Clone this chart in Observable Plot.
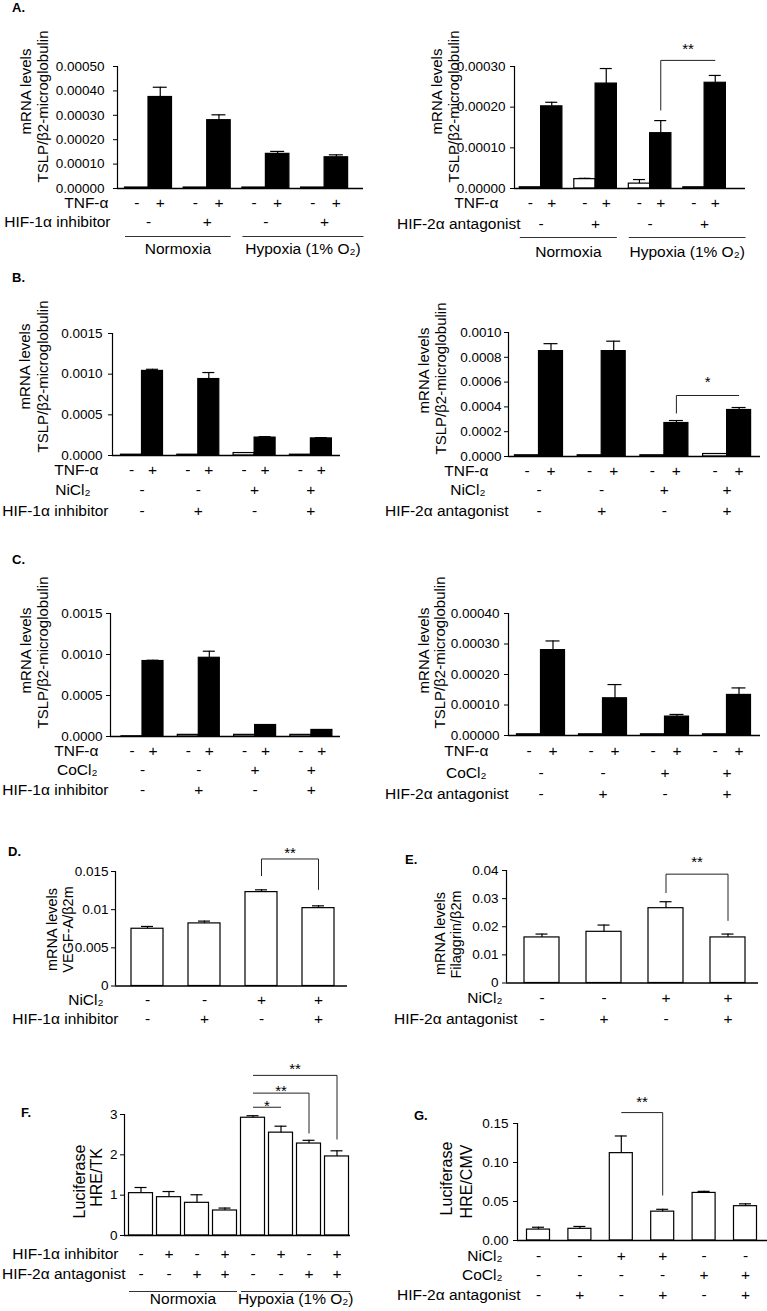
<!DOCTYPE html>
<html><head><meta charset="utf-8">
<script src="https://cdn.jsdelivr.net/npm/d3@7"></script>
<script src="https://cdn.jsdelivr.net/npm/@observablehq/plot@0.6"></script>
<style>
body{margin:0;background:#fff;}
#fig{position:relative;width:767px;height:1311px;background:#fff;overflow:hidden;font-family:"Liberation Sans",Arial,Helvetica,sans-serif;color:#000;}
.letter{position:absolute;font-weight:bold;font-size:13px;line-height:13px;}
</style></head><body><div id="fig"></div>
<script>
const FONT = '"Liberation Sans", Arial, Helvetica, sans-serif';

// ---------------- DATA ----------------
// common row markers
const tnfRow = ["-","+","-","+","-","+","-","+"];
const inhibPairs = ["-","+","-","+"];
const saltPairs = ["-","-","+","+"];
const oxygenGroups = ["Normoxia", "Hypoxia (1% O₂)"];
const tslpTitle = ["mRNA levels", "TSLP/β2-microglobulin"];

// Panel A left
const aLeftValues = [0.000004, 0.000375, 0.000004, 0.00028, 0.000004, 0.000142, 0.000004, 0.000128];
const aLeftErrors = [0, 0.00004, 0, 0.000022, 0, 0.00001, 0, 0.00001];
const aLeftTicks = [0, 0.0001, 0.0002, 0.0003, 0.0004, 0.0005];
// Panel A right
const aRightValues = [0.000003, 0.000202, 0.000023, 0.000258, 0.000012, 0.000136, 0.000003, 0.00026];
const aRightErrors = [0, 0.00001, 0.000002, 0.000037, 0.00001, 0.000031, 0, 0.000018];
const aRightTicks = [0, 0.0001, 0.0002, 0.0003];
const aRightSig = [{from: 5, to: 7, y: 0.000315, leftLow: 0.000192, rightLow: null, starY: 0.000352, label: "**"}];
// Panel B left
const bLeftValues = [0.00001, 0.00104, 0.00001, 0.00094, 0.00003, 0.00022, 0.00001, 0.00021];
const bLeftErrors = [0, 0.00002, 0, 0.00008, 0, 0.000012, 0, 0.00001];
const bLeftTicks = [0, 0.0005, 0.001, 0.0015];
// Panel B right
const bRightValues = [0.00001, 0.00085, 0.00001, 0.00085, 0.00001, 0.00027, 0.00002, 0.000375];
const bRightErrors = [0, 0.00006, 0, 0.00008, 0, 0.00002, 0, 0.00002];
const bRightTicks = [0, 0.0002, 0.0004, 0.0006, 0.0008, 0.001];
const bRightSig = [{from: 5, to: 7, y: 0.000492, leftLow: 0.000347, rightLow: null, starY: 0.000629, label: "*"}];
// Panel C left
const cLeftValues = [0.000003, 0.00092, 0.00002, 0.00096, 0.00002, 0.00014, 0.00002, 0.00008];
const cLeftErrors = [0, 0.00001, 0, 0.00008, 0, 0, 0, 0];
const cLeftTicks = [0, 0.0005, 0.001, 0.0015];
// Panel C right
const cRightValues = [0.000004, 0.00028, 0.000004, 0.000122, 0.000004, 0.000062, 0.000004, 0.000133];
const cRightErrors = [0, 0.00003, 0, 0.000045, 0, 0.000007, 0, 0.000023];
const cRightTicks = [0, 0.0001, 0.0002, 0.0003, 0.0004];
// Panel D
const dValues = [0.0075, 0.0082, 0.0123, 0.0102];
const dErrors = [0.0003, 0.0003, 0.0003, 0.0003];
const dTicks = [0, 0.005, 0.01, 0.015];
const dSig = [{from: 2, to: 3, y: 0.01664, leftLow: 0.0144, rightLow: 0.0126, starY: 0.01795, label: "**"}];
// Panel E
const eValues = [0.0162, 0.0182, 0.0266, 0.0162];
const eErrors = [0.0012, 0.0024, 0.0023, 0.0012];
const eTicks = [0, 0.01, 0.02, 0.03, 0.04];
const eSig = [{from: 2, to: 3, y: 0.0387, leftLow: 0.032, rightLow: 0.0221, starY: 0.0443, label: "**"}];
// Panel F
const fValues = [1.05, 0.95, 0.81, 0.62, 2.92, 2.55, 2.28, 1.96];
const fErrors = [0.14, 0.14, 0.2, 0.06, 0.05, 0.16, 0.08, 0.14];
const fTicks = [0, 1, 2, 3];
const fInhib = ["-","+","-","+","-","+","-","+"];
const fAntag = ["-","-","+","+","-","-","+","+"];
const fSig = [
  {from: 4, to: 5, y: 3.18, leftLow: null, rightLow: null, starY: 3.3, label: "*"},
  {from: 4, to: 6, y: 3.53, leftLow: null, rightLow: 2.53, starY: 3.67, label: "**"},
  {from: 4, to: 7, y: 3.97, leftLow: null, rightLow: 2.38, starY: 4.22, label: "**"}
];
// Panel G
const gValues = [0.014, 0.015, 0.112, 0.037, 0.061, 0.044];
const gErrors = [0.003, 0.003, 0.022, 0.003, 0.002, 0.003];
const gTicks = [0, 0.05, 0.1, 0.15];
const gNi = ["-","-","+","+","-","-"];
const gCo = ["-","-","-","-","+","+"];
const gAntag = ["-","+","-","+","-","+"];
const gSig = [{from: 2, to: 3, y: 0.164, leftLow: null, rightLow: 0.0577, starY: 0.183, label: "**"}];

// ---------------- PANELS ----------------
const ROW_FONT = 15.5, TICK_FONT = "13.5px";
const panels = [
  {letter: "A.", values: aLeftValues, errors: aLeftErrors, yMax: 0.0005, ticks: aLeftTicks, fmt: d3.format(".5f"),
   fillRow: tnfRow, rows: [{label: "TNF-α", marks: tnfRow}, {label: "HIF-1α inhibitor", marks: inhibPairs}],
   groups: oxygenGroups, groupBars: 4, titles: tslpTitle,
   L: {svgX:0, svgY:15, svgW:383, svgH:260, axisX0:117, axisX1:363, zeroY:188, topY:66, barW:23.5, firstBarX:124.5, group:2, period:58.7, cap:7, tickPad:9,
       rowDy:[19.5,38.5], rowEnd:[108,110], underlineDy:48, groupDy:65, titlePos:[[20,91],[37,106]], titleSize:15, letterPos:[12,1]}},
  {letter: null, values: aRightValues, errors: aRightErrors, yMax: 0.0003, ticks: aRightTicks, fmt: d3.format(".5f"),
   fillRow: tnfRow, rows: [{label: "TNF-α", marks: tnfRow}, {label: "HIF-2α antagonist", marks: inhibPairs}],
   groups: oxygenGroups, groupBars: 4, titles: tslpTitle, sig: aRightSig,
   L: {svgX:383, svgY:15, svgW:384, svgH:260, axisX0:514, axisX1:745, zeroY:188, topY:66, barW:21.3, firstBarX:519.3, group:2, period:54.5, cap:6, tickPad:5,
       rowDy:[19.5,40], rowEnd:[498,520], underlineDy:49, groupDy:68, titlePos:[[431,91],[448,106]], titleSize:15}},
  {letter: "B.", values: bLeftValues, errors: bLeftErrors, yMax: 0.0015, ticks: bLeftTicks, fmt: d3.format(".4f"),
   fillRow: tnfRow, rows: [{label: "TNF-α", marks: tnfRow}, {label: "NiCl₂", marks: saltPairs}, {label: "HIF-1α inhibitor", marks: inhibPairs}],
   titles: tslpTitle,
   L: {svgX:0, svgY:285, svgW:383, svgH:255, axisX0:112, axisX1:340, zeroY:455, topY:333, barW:21, firstBarX:120.5, group:2, period:56.3, cap:6, tickPad:6,
       rowDy:[19.5,39,60], rowEnd:[98,90,108], titlePos:[[19,366],[37,376]], titleSize:15, letterPos:[12,271]}},
  {letter: null, values: bRightValues, errors: bRightErrors, yMax: 0.001, ticks: bRightTicks, fmt: d3.format(".4f"),
   fillRow: tnfRow, rows: [{label: "TNF-α", marks: tnfRow}, {label: "NiCl₂", marks: saltPairs}, {label: "HIF-2α antagonist", marks: inhibPairs}],
   titles: tslpTitle, sig: bRightSig,
   L: {svgX:383, svgY:285, svgW:384, svgH:255, axisX0:508, axisX1:760, zeroY:456, topY:332, barW:24, firstBarX:514.5, group:2, period:62.7, cap:7, tickPad:3,
       rowDy:[19.5,38.5,59], rowEnd:[488,485,508], titlePos:[[418,370],[435,378]], titleSize:15}},
  {letter: "C.", values: cLeftValues, errors: cLeftErrors, yMax: 0.0015, ticks: cLeftTicks, fmt: d3.format(".4f"),
   fillRow: tnfRow, rows: [{label: "TNF-α", marks: tnfRow}, {label: "CoCl₂", marks: saltPairs}, {label: "HIF-1α inhibitor", marks: inhibPairs}],
   titles: tslpTitle,
   L: {svgX:0, svgY:560, svgW:383, svgH:260, axisX0:110, axisX1:340, zeroY:736, topY:613, barW:21, firstBarX:121, group:2, period:56.3, cap:6, tickPad:4,
       rowDy:[19.5,38,58], rowEnd:[98,97,108], titlePos:[[20,650],[37,652]], titleSize:15, letterPos:[12,553]}},
  {letter: null, values: cRightValues, errors: cRightErrors, yMax: 0.0004, ticks: cRightTicks, fmt: d3.format(".5f"),
   fillRow: tnfRow, rows: [{label: "TNF-α", marks: tnfRow}, {label: "CoCl₂", marks: saltPairs}, {label: "HIF-2α antagonist", marks: inhibPairs}],
   titles: tslpTitle,
   L: {svgX:383, svgY:560, svgW:384, svgH:260, axisX0:508, axisX1:760, zeroY:735, topY:613, barW:24, firstBarX:516.5, group:2, period:62, cap:7, tickPad:5,
       rowDy:[20,42,63], rowEnd:[488,486,508], titlePos:[[418,650],[434,652]], titleSize:15}},
  {letter: "D.", values: dValues, errors: dErrors, yMax: 0.015, ticks: dTicks, fmt: d3.format("~g"),
   rows: [{label: "NiCl₂", marks: saltPairs}, {label: "HIF-1α inhibitor", marks: inhibPairs}],
   titles: ["mRNA levels", "VEGF-A/β2m"], sig: dSig,
   L: {svgX:0, svgY:840, svgW:383, svgH:200, axisX0:115, axisX1:347, zeroY:985.5, topY:871, barW:32, firstBarX:131, group:1, period:57, cap:6, tickPad:3,
       rowDy:[18.5,38], rowEnd:[103,118], titlePos:[[46,929],[62,929]], titleSize:14.5, letterPos:[8,845]}},
  {letter: "E.", values: eValues, errors: eErrors, yMax: 0.04, ticks: eTicks, fmt: d3.format("~g"),
   rows: [{label: "NiCl₂", marks: saltPairs}, {label: "HIF-2α antagonist", marks: inhibPairs}],
   titles: ["mRNA levels", "Filaggrin/β2m"], sig: eSig,
   L: {svgX:383, svgY:840, svgW:384, svgH:200, axisX0:506, axisX1:758, zeroY:982.5, topY:870, barW:35, firstBarX:524, group:1, period:62, cap:6, tickPad:4,
       rowDy:[19.5,40.5], rowEnd:[502,517], titlePos:[[434,933],[450,934]], titleSize:14.5, letterPos:[405,853]}},
  {letter: "F.", values: fValues, errors: fErrors, yMax: 3, ticks: fTicks, fmt: d3.format("~g"),
   rows: [{label: "HIF-1α inhibitor", marks: fInhib}, {label: "HIF-2α antagonist", marks: fAntag}],
   groups: oxygenGroups, groupBars: 4, titles: ["Luciferase", "HRE/TK"], sig: fSig,
   L: {svgX:0, svgY:1050, svgW:383, svgH:261, axisX0:124, axisX1:350, zeroY:1235, topY:1114, barW:24, firstBarX:128.5, group:1, period:28, cap:6, tickPad:3,
       rowDy:[23,43], rowEnd:[118,125], underlineDy:56, groupDy:68, titlePos:[[73,1181],[90,1177]], titleSize:16, letterPos:[21,1106]}},
  {letter: "G.", values: gValues, errors: gErrors, yMax: 0.15, ticks: gTicks, fmt: d3.format(".2f"),
   rows: [{label: "NiCl₂", marks: gNi}, {label: "CoCl₂", marks: gCo}, {label: "HIF-2α antagonist", marks: gAntag}],
   titles: ["Luciferase", "HRE/CMV"], sig: gSig,
   L: {svgX:383, svgY:1050, svgW:384, svgH:261, axisX0:517, axisX1:767, zeroY:1240, topY:1123, barW:23, firstBarX:526.5, group:1, period:41.4, cap:6, tickPad:5,
       rowDy:[20.5,39.5,59], rowEnd:[502,502,520], titlePos:[[440,1178],[460,1181]], titleSize:16, letterPos:[414,1109]}}
];

const fig = document.getElementById("fig");

function render(p) {
  const L = p.L, w = L.barW, n = p.values.length, g = L.group;
  const step = L.period / w;
  const start = i => g === 1 ? i * step : Math.floor(i / g) * step + (i % g);
  const center = i => start(i) + 0.5;
  const xDomain = [(L.axisX0 - L.firstBarX) / w, (L.axisX1 - L.firstBarX) / w];
  const bars = p.values.map((v, i) => ({
    v, e: p.errors[i], x1: start(i), x2: start(i) + 1, xc: center(i),
    fill: p.fillRow ? (p.fillRow[i] === "+" ? "black" : "white") : "white"
  }));
  const errs = bars.filter(d => d.e > 0);
  const cap = L.cap / w;
  const marks = [
    Plot.rect(bars, {x1: "x1", x2: "x2", y1: 0, y2: "v", fill: "fill", stroke: "black", strokeWidth: 1.2}),
    Plot.ruleX(errs, {x: "xc", y1: "v", y2: d => d.v + d.e, stroke: "black", strokeWidth: 1.2}),
    Plot.ruleY(errs, {y: d => d.v + d.e, x1: d => d.xc - cap, x2: d => d.xc + cap, stroke: "black", strokeWidth: 1.2}),
    Plot.ruleY([0], {stroke: "black", strokeWidth: 1.3}),
    Plot.ruleX([xDomain[0]], {y1: 0, y2: p.yMax, stroke: "black", strokeWidth: 1.2})
  ];
  // condition rows
  p.rows.forEach((row, r) => {
    const perBar = row.marks.length === n;
    const items = row.marks.map((m, k) => ({m, x: perBar ? center(k) : start(k * g) + g / 2}));
    marks.push(Plot.text(items, {x: "x", text: "m", frameAnchor: "bottom", dy: L.rowDy[r], fontSize: ROW_FONT}));
    marks.push(Plot.text([row.label], {frameAnchor: "bottom-left", dx: L.rowEnd[r] - L.axisX0, dy: L.rowDy[r], textAnchor: "end", fontSize: ROW_FONT}));
  });
  // group underline + labels
  if (p.groups) {
    const gd = p.groups.map((label, k) => {
      const first = k * p.groupBars, last = first + p.groupBars - 1;
      const x1 = start(first);
      const x2 = k === p.groups.length - 1 ? xDomain[1] : start(last) + 1;
      return {label, x1, x2, xm: (x1 + x2) / 2};
    });
    marks.push(Plot.link(gd, {x1: "x1", x2: "x2", y1: 0, y2: 0, dy: L.underlineDy, stroke: "#333", strokeWidth: 1}));
    marks.push(Plot.text(gd, {x: "xm", text: "label", frameAnchor: "bottom", dy: L.groupDy, fontSize: ROW_FONT}));
  }
  // significance brackets
  if (p.sig) {
    const segs = [];
    p.sig.forEach(b => {
      const xa = center(b.from), xb = center(b.to);
      segs.push({x1: xa, x2: xb, y1: b.y, y2: b.y});
      if (b.leftLow != null) segs.push({x1: xa, x2: xa, y1: b.leftLow, y2: b.y});
      if (b.rightLow != null) segs.push({x1: xb, x2: xb, y1: b.rightLow, y2: b.y});
    });
    marks.push(Plot.link(segs, {x1: "x1", x2: "x2", y1: "y1", y2: "y2", stroke: "#222", strokeWidth: 1}));
    marks.push(Plot.text(p.sig, {x: b => (center(b.from) + center(b.to)) / 2, y: "starY", text: "label", fontSize: 15, dy: 4}));
  }
  // y titles
  p.titles.forEach((t, k) => {
    const [cx, cy] = L.titlePos[k];
    marks.push(Plot.text([t], {frameAnchor: "top-left", dx: cx - L.axisX0, dy: cy - L.topY, rotate: -90, textAnchor: "middle", fontSize: L.titleSize}));
  });

  const svg = Plot.plot({
    width: L.svgW, height: L.svgH,
    marginLeft: L.axisX0 - L.svgX, marginRight: L.svgX + L.svgW - L.axisX1,
    marginTop: L.topY - L.svgY, marginBottom: L.svgY + L.svgH - L.zeroY,
    x: {type: "linear", domain: xDomain, axis: null},
    y: {domain: [0, p.yMax], ticks: p.ticks, tickFormat: p.fmt, tickSize: 4, tickPadding: L.tickPad, label: null},
    color: {type: "identity"},
    style: {fontFamily: FONT, fontSize: TICK_FONT, color: "black", background: "transparent", overflow: "visible"},
    marks
  });
  svg.style.position = "absolute";
  svg.style.left = L.svgX + "px";
  svg.style.top = L.svgY + "px";
  svg.style.maxWidth = "none";
  fig.appendChild(svg);

  if (p.letter) {
    const d = document.createElement("div");
    d.className = "letter";
    d.textContent = p.letter;
    d.style.left = L.letterPos[0] + "px";
    d.style.top = L.letterPos[1] + "px";
    fig.appendChild(d);
  }
}

panels.forEach(render);
</script></body></html>
